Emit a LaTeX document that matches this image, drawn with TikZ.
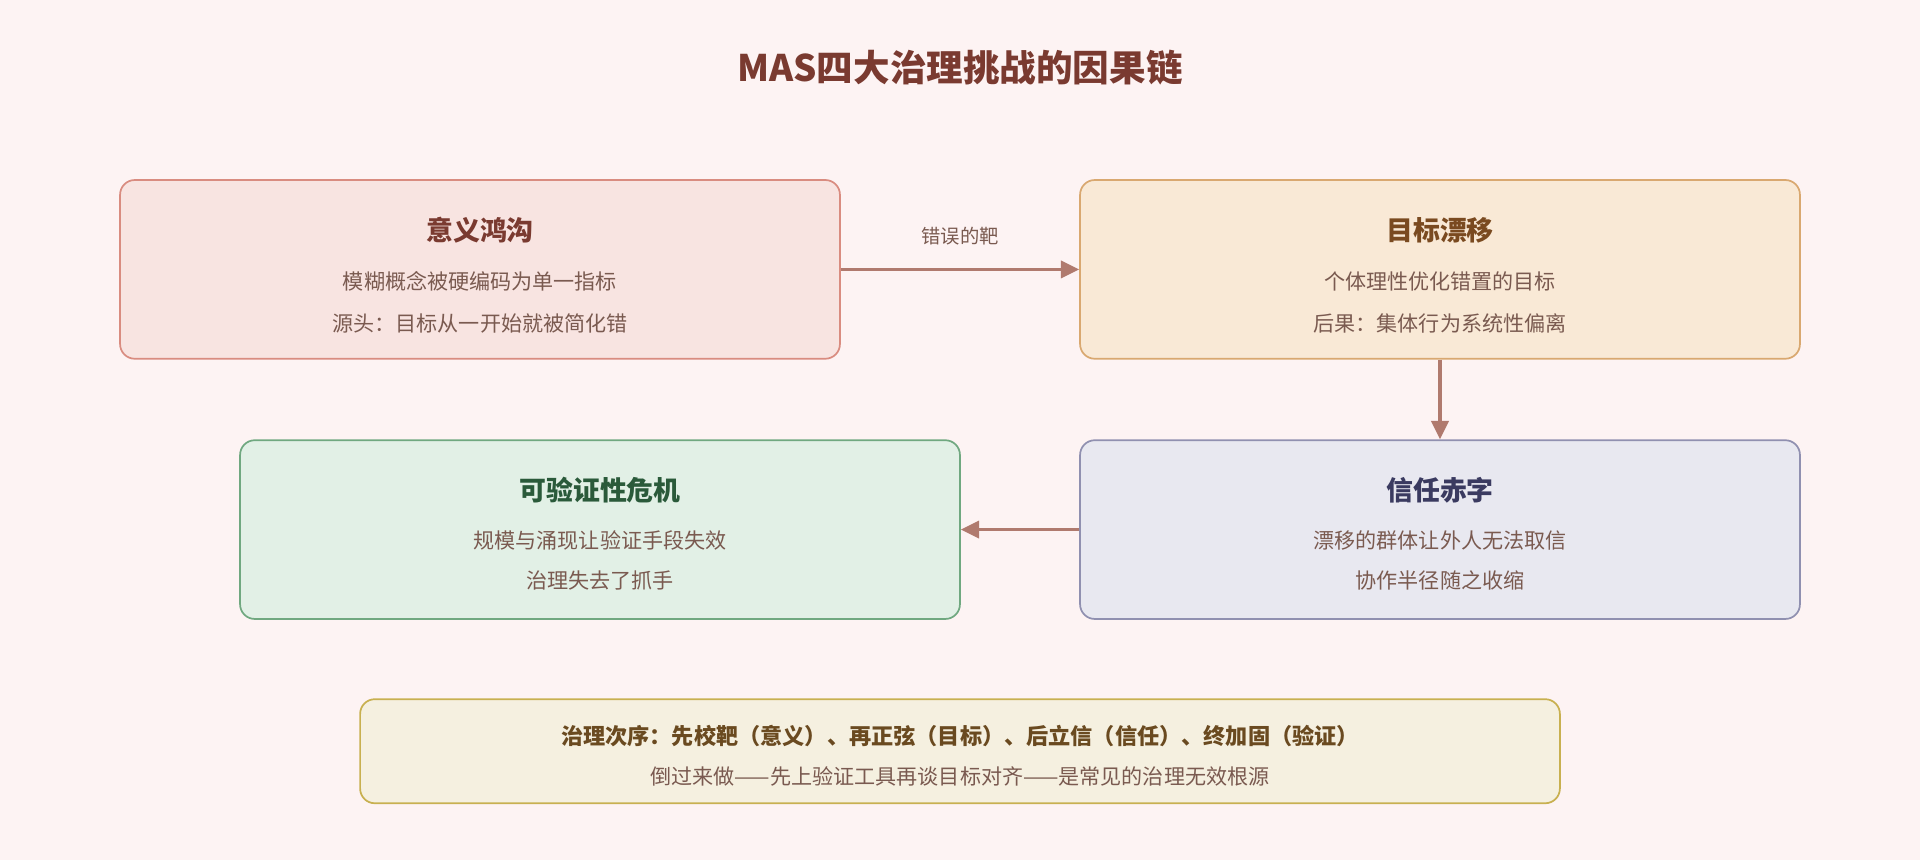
\documentclass[tikz,border=0pt]{standalone}
\usepackage{fontspec}
\setmainfont{Noto Sans CJK SC}
\usetikzlibrary{positioning,arrows.meta}
\definecolor{bg}{HTML}{FDF3F3}
\definecolor{arr}{HTML}{B07A6E}
\definecolor{txt}{HTML}{7A5A50}
\definecolor{fa}{HTML}{F8E4E1}\definecolor{da}{HTML}{D98C80}\definecolor{ta}{HTML}{7A3A30}
\definecolor{fb}{HTML}{F9E9D6}\definecolor{db}{HTML}{D9A870}\definecolor{tb}{HTML}{7A4A20}
\definecolor{fc}{HTML}{E8E8F0}\definecolor{dc}{HTML}{9090B0}\definecolor{tc}{HTML}{3A3A60}
\definecolor{fd}{HTML}{E2F0E6}\definecolor{dd}{HTML}{70A880}\definecolor{td}{HTML}{2A5A3A}
\definecolor{fe}{HTML}{F5F0E0}\definecolor{de}{HTML}{C8B050}\definecolor{te}{HTML}{6A4A20}
\tikzset{
  box/.style={draw, line width=0.8pt, rounded corners=0.24cm, minimum width=11.76cm, minimum height=2.92cm, inner sep=0pt},
  head/.style={font=\fontsize{12.5}{14}\selectfont\bfseries},
  body/.style={font=\fontsize{9.8}{12}\selectfont, text=txt},
  link/.style={draw=arr, line width=1.6pt, -{Triangle[length=0.3cm,width=0.28cm]}}
}
\begin{document}
\begin{tikzpicture}[x=0.02cm,y=-0.02cm]
\fill[bg] (0,0) rectangle (1568,702);
\useasboundingbox (0,0) rectangle (1568,702);
\node[font=\fontsize{17}{20}\selectfont\bfseries, text=ta] (title) at (784,55) {MAS四大治理挑战的因果链};
% boxes
\node[box, fill=fa, draw=da] (gap) at (392,220) {};
\node[box, fill=fb, draw=db] (drift) at (1176,220) {};
\node[box, fill=fc, draw=dc] (trust) at (1176,432.5) {};
\node[box, fill=fd, draw=dd] (verify) at (490,432.5) {};
\node[draw=de, fill=fe, line width=0.8pt, rounded corners=0.24cm, minimum width=19.6cm, minimum height=1.7cm] (order) at (784,613.5) {};
% texts
\node[head, text=ta] (gapT) at (392,188) {意义鸿沟};
\node[body] (gapA) at (392,230) {模糊概念被硬编码为单一指标};
\node[body] (gapB) at (392,264) {源头：目标从一开始就被简化错};
\node[head, text=tb] (driftT) at (1176,188) {目标漂移};
\node[body] (driftA) at (1176,230) {个体理性优化错置的目标};
\node[body] (driftB) at (1176,264) {后果：集体行为系统性偏离};
\node[head, text=tc] (trustT) at (1176,400) {信任赤字};
\node[body] (trustA) at (1176,441) {漂移的群体让外人无法取信};
\node[body] (trustB) at (1176,474) {协作半径随之收缩};
\node[head, text=td] (verifyT) at (490,400) {可验证性危机};
\node[body] (verifyA) at (490,441) {规模与涌现让验证手段失效};
\node[body] (verifyB) at (490,474) {治理失去了抓手};
\node[font=\fontsize{10.3}{12}\selectfont\bfseries, text=te] (orderA) at (784,601) {治理次序：先校靶（意义）、再正弦（目标）、后立信（信任）、终加固（验证）};
\node[body] (orderB) at (784,634) {倒过来做——先上验证工具再谈目标对齐——是常见的治理无效根源};
% connectors
\draw[link] (gap) -- node[above=0.25cm, font=\fontsize{9}{11}\selectfont, text=txt] {错误的靶} (drift);
\draw[link] (drift) -- (trust);
\draw[link] (trust) -- (verify);
\end{tikzpicture}
\end{document}
